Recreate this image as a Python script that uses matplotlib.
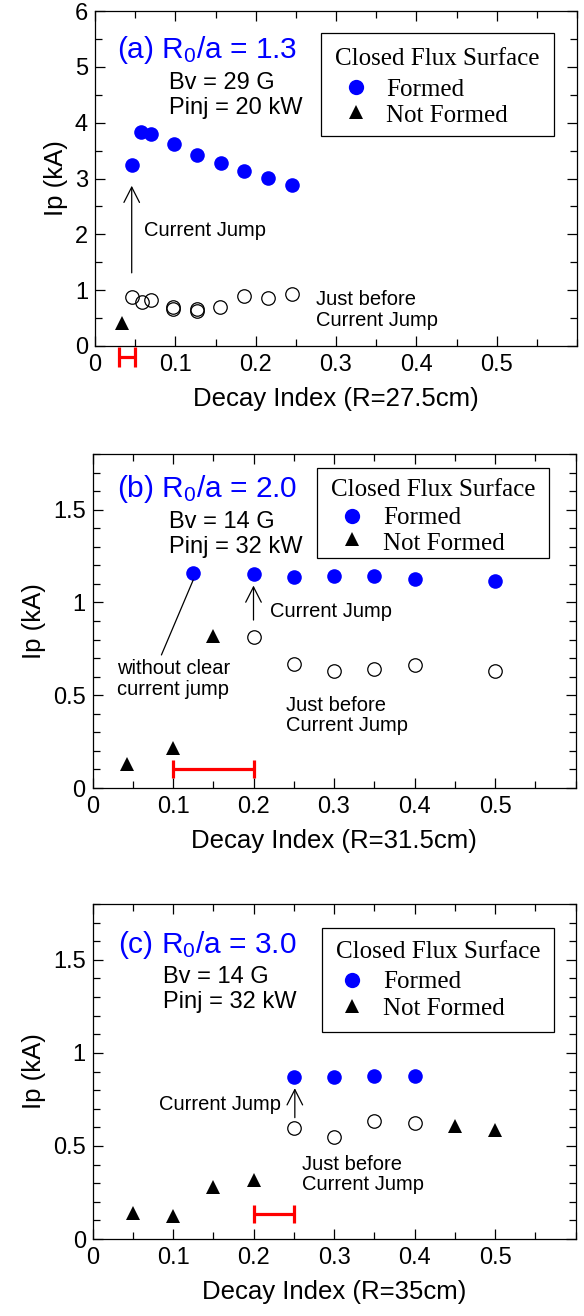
import matplotlib
matplotlib.use('Agg')
import matplotlib.pyplot as plt
from matplotlib.ticker import MultipleLocator, FixedLocator, FuncFormatter
from matplotlib.patches import Rectangle

plt.rcParams['font.family'] = ['Liberation Sans', 'DejaVu Sans']
plt.rcParams['mathtext.fontset'] = 'custom'
plt.rcParams['mathtext.rm'] = 'Liberation Sans'
plt.rcParams['mathtext.it'] = 'Liberation Sans:italic'
plt.rcParams['mathtext.bf'] = 'Liberation Sans:bold'

# ---------------- data ----------------
# panel (a)  R0/a = 1.3
a_formed_x = [0.0457, 0.0577, 0.0697, 0.0984, 0.1270, 0.1566, 0.1857, 0.2150, 0.2457]
a_formed_y = [3.24, 3.83, 3.80, 3.62, 3.42, 3.27, 3.13, 3.01, 2.89]
a_before_x = [0.0457, 0.0580, 0.0697, 0.0970, 0.0970, 0.1270, 0.1270, 0.1555, 0.1855, 0.2155, 0.2457]
a_before_y = [0.885, 0.78, 0.82, 0.695, 0.66, 0.665, 0.63, 0.69, 0.90, 0.86, 0.925]
a_notf_x = [0.034]
a_notf_y = [0.41]
a_range = [0.030, 0.050]
a_range_y = -0.19

# panel (b)  R0/a = 2.0
b_formed_x = [0.125, 0.20, 0.25, 0.30, 0.35, 0.40, 0.50]
b_formed_y = [1.156, 1.152, 1.136, 1.143, 1.145, 1.127, 1.118]
b_before_x = [0.20, 0.25, 0.30, 0.35, 0.40, 0.50]
b_before_y = [0.814, 0.668, 0.633, 0.640, 0.661, 0.633]
b_notf_x = [0.043, 0.10, 0.15]
b_notf_y = [0.127, 0.215, 0.819]
b_range = [0.10, 0.20]
b_range_y = 0.104

# panel (c)  R0/a = 3.0
c_formed_x = [0.25, 0.30, 0.35, 0.40]
c_formed_y = [0.873, 0.873, 0.878, 0.875]
c_before_x = [0.25, 0.30, 0.35, 0.40]
c_before_y = [0.595, 0.550, 0.633, 0.624]
c_notf_x = [0.05, 0.10, 0.15, 0.20, 0.45, 0.50]
c_notf_y = [0.140, 0.125, 0.278, 0.319, 0.609, 0.584]
c_range = [0.20, 0.25]
c_range_y = 0.133

x_ticks = [0, 0.1, 0.2, 0.3, 0.4, 0.5]
a_y_ticks = [0, 1, 2, 3, 4, 5, 6]
bc_y_ticks = [0, 0.5, 1.0, 1.5]

titles = [r'(a) R$_\mathrm{0}$/a = 1.3', r'(b) R$_\mathrm{0}$/a = 2.0', r'(c) R$_\mathrm{0}$/a = 3.0']
params = [('Bv = 29 G', 'Pinj = 20 kW'), ('Bv = 14 G', 'Pinj = 32 kW'), ('Bv = 14 G', 'Pinj = 32 kW')]
xlabels = ['Decay Index (R=27.5cm)', 'Decay Index (R=31.5cm)', 'Decay Index (R=35cm)']
legend_title = 'Closed Flux Surface'
legend_labels = ['Formed', 'Not Formed']

BLUE = '#0000FF'
RED = '#FF0000'
W, H = 584, 1316
fig = plt.figure(figsize=(W / 100, H / 100), dpi=100)


def make_axes(left, top, right, bottom):
    return fig.add_axes([left / W, 1 - bottom / H, (right - left) / W, (bottom - top) / H])


axa = make_axes(95, 11, 577, 346)
axb = make_axes(92.5, 454, 575.5, 788)
axc = make_axes(92.7, 904, 575.5, 1239)

fmt = FuncFormatter(lambda v, p: '%g' % round(v, 3))

TICK = 17
LAB = 18.5
NOTE = 14.5
PAR = 17
TIT = 21.5
LEG = 18


def style(ax, ymax, yticks, yminor, xlabel):
    ax.set_xlim(0, 0.6)
    ax.set_ylim(0, ymax)
    ax.xaxis.set_major_locator(FixedLocator(x_ticks))
    ax.xaxis.set_minor_locator(MultipleLocator(0.05))
    ax.yaxis.set_major_locator(FixedLocator(yticks))
    ax.yaxis.set_minor_locator(MultipleLocator(yminor))
    ax.xaxis.set_major_formatter(fmt)
    ax.yaxis.set_major_formatter(fmt)
    ax.tick_params(which='both', direction='in', top=True, right=True, width=0.9)
    ax.tick_params(which='major', length=7.5)
    ax.tick_params(which='minor', length=5)
    ax.tick_params(axis='x', which='major', labelsize=TICK, pad=6)
    ax.tick_params(axis='y', which='major', labelsize=TICK, pad=5)
    for s in ax.spines.values():
        s.set_linewidth(0.9)
    ax.set_xlabel(xlabel, fontsize=LAB, labelpad=8)
    ax.set_ylabel('Ip (kA)', fontsize=LAB, labelpad=5)


def points(ax, fx, fy, bx, by, nx, ny):
    ax.plot(fx, fy, 'o', color=BLUE, ms=10.5, mec=BLUE, mew=0, ls='none', zorder=3)
    ax.plot(bx, by, 'o', mfc='none', mec='black', ms=9.7, mew=0.9, ls='none', zorder=3)
    ax.plot(nx, ny, '^', color='black', ms=10.5, mew=0, ls='none', zorder=3)


def red_range(ax, rng, y, cap):
    xc = (rng[0] + rng[1]) / 2
    half = (rng[1] - rng[0]) / 2
    cont = ax.errorbar([xc], [y], xerr=[[half], [half]], fmt='none', ecolor=RED,
                       elinewidth=2.3, capsize=cap, capthick=2.3, zorder=4)
    for art in cont.get_children():
        art.set_clip_on(False)


def legend(ax, box, tb, fb, nb, fm, nm, mx, tx):
    x0, x1, y0, y1 = box
    ax.add_patch(Rectangle((x0, y0), x1 - x0, y1 - y0, transform=ax.transAxes,
                           fill=True, fc='white', ec='black', lw=0.9, zorder=5))
    ax.text((x0 + x1) / 2, tb, legend_title, transform=ax.transAxes, ha='center', va='baseline',
            fontsize=LEG, family='Liberation Serif', zorder=6)
    ax.text(tx, fb, legend_labels[0], transform=ax.transAxes, ha='left', va='baseline',
            fontsize=LEG, family='Liberation Serif', zorder=6)
    ax.text(tx, nb, legend_labels[1], transform=ax.transAxes, ha='left', va='baseline',
            fontsize=LEG, family='Liberation Serif', zorder=6)
    ax.plot([mx], [fm], 'o', color=BLUE, ms=11, mew=0, transform=ax.transAxes, zorder=6, clip_on=False)
    ax.plot([mx], [nm], '^', color='black', ms=10.5, mew=0, transform=ax.transAxes, zorder=6, clip_on=False)


def arrow(ax, tail, head):
    ax.annotate('', xy=head, xytext=tail,
                arrowprops=dict(arrowstyle='->,head_length=0.55,head_width=0.28', lw=0.9,
                                color='black', shrinkA=0, shrinkB=0, mutation_scale=20))


# ---------- panel (a) ----------
style(axa, 6, a_y_ticks, 0.5, xlabels[0])
points(axa, a_formed_x, a_formed_y, a_before_x, a_before_y, a_notf_x, a_notf_y)
red_range(axa, a_range, a_range_y, 7.2)
axa.text(0.027, 5.16, titles[0], color=BLUE, fontsize=TIT, va='baseline')
axa.text(0.092, 4.60, params[0][0], fontsize=PAR, va='baseline')
axa.text(0.092, 4.16, params[0][1], fontsize=PAR, va='baseline')
arrow(axa, (0.0457, 1.31), (0.0457, 2.87))
axa.text(0.0604, 1.97, 'Current Jump', fontsize=NOTE, va='baseline')
axa.text(0.2746, 0.73, 'Just before', fontsize=NOTE, va='baseline')
axa.text(0.2746, 0.35, 'Current Jump', fontsize=NOTE, va='baseline')
legend(axa, (0.469, 0.952, 0.627, 0.934), 0.839, 0.746, 0.669, 0.772, 0.699, 0.5415, 0.604)

# ---------- panel (b) ----------
style(axb, 1.8, bc_y_ticks, 0.1, xlabels[1])
points(axb, b_formed_x, b_formed_y, b_before_x, b_before_y, b_notf_x, b_notf_y)
red_range(axb, b_range, b_range_y, 6.6)
axb.text(0.031, 1.568, titles[1], color=BLUE, fontsize=TIT, va='baseline')
axb.text(0.0949, 1.403, params[1][0], fontsize=PAR, va='baseline')
axb.text(0.0949, 1.269, params[1][1], fontsize=PAR, va='baseline')
arrow(axb, (0.2, 0.905), (0.2, 1.091))
axb.text(0.2205, 0.923, 'Current Jump', fontsize=NOTE, va='baseline')
axb.annotate('', xy=(0.0856, 0.717), xytext=(0.125, 1.12),
             arrowprops=dict(arrowstyle='-', lw=0.9, color='black', shrinkA=0, shrinkB=0))
axb.text(0.031, 0.613, 'without clear', fontsize=NOTE, va='baseline')
axb.text(0.031, 0.502, 'current jump', fontsize=NOTE, va='baseline')
axb.text(0.2405, 0.416, 'Just before', fontsize=NOTE, va='baseline')
axb.text(0.2405, 0.308, 'Current Jump', fontsize=NOTE, va='baseline')
legend(axb, (0.464, 0.946, 0.689, 0.959), 0.874, 0.790, 0.7126, 0.814, 0.745, 0.538, 0.601)

# ---------- panel (c) ----------
style(axc, 1.8, bc_y_ticks, 0.1, xlabels[2])
points(axc, c_formed_x, c_formed_y, c_before_x, c_before_y, c_notf_x, c_notf_y)
red_range(axc, c_range, c_range_y, 6.6)
axc.text(0.031, 1.536, titles[2], color=BLUE, fontsize=TIT, va='baseline')
axc.text(0.087, 1.375, params[2][0], fontsize=PAR, va='baseline')
axc.text(0.087, 1.240, params[2][1], fontsize=PAR, va='baseline')
arrow(axc, (0.2512, 0.652), (0.2512, 0.81))
axc.text(0.2335, 0.694, 'Current Jump', fontsize=NOTE, va='baseline', ha='right')
axc.text(0.2605, 0.371, 'Just before', fontsize=NOTE, va='baseline')
axc.text(0.2605, 0.263, 'Current Jump', fontsize=NOTE, va='baseline')
legend(axc, (0.475, 0.956, 0.617, 0.927), 0.838, 0.748, 0.6687, 0.773, 0.696, 0.538, 0.601)

fig.savefig('out.png', dpi=100)
